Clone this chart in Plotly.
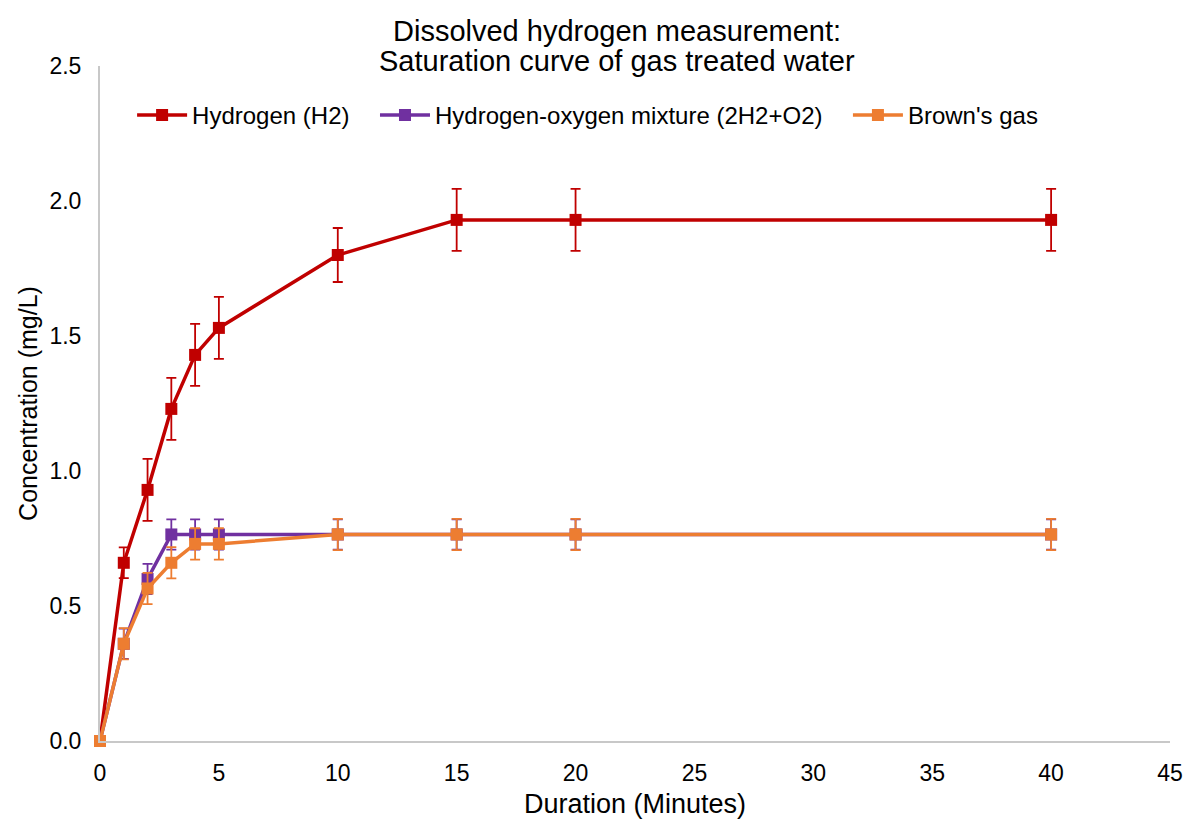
import plotly.graph_objects as go

minutes = [0, 1, 2, 3, 4, 5, 10, 15, 20, 40]

h2_values = [0, 0.66, 0.93, 1.23, 1.43, 1.53, 1.80, 1.93, 1.93, 1.93]
h2_errors = [0, 0.057, 0.115, 0.115, 0.115, 0.115, 0.10, 0.115, 0.115, 0.115]

mix_values = [0, 0.36, 0.60, 0.765, 0.765, 0.765, 0.765, 0.765, 0.765, 0.765]
mix_errors = [0, 0.056, 0.056, 0.056, 0.056, 0.056, 0.056, 0.056, 0.056, 0.056]

brown_values = [0, 0.36, 0.565, 0.66, 0.73, 0.73, 0.765, 0.765, 0.765, 0.765]
brown_errors = [0, 0.058, 0.058, 0.058, 0.058, 0.058, 0.058, 0.058, 0.058, 0.058]

series_names = ["Hydrogen (H2)", "Hydrogen-oxygen mixture (2H2+O2)", "Brown's gas"]
series_colors = ["#C00000", "#7030A0", "#ED7D31"]

title_lines = ["Dissolved hydrogen measurement:", "Saturation curve of gas treated water"]

FONT = "Liberation Sans, Arial, sans-serif"

legend_ids = ["legend", "legend2", "legend3"]
legend_x = [0.03, 0.257, 0.699]

fig = go.Figure()
for name, vals, errs, col, lg in zip(series_names,
                                     [h2_values, mix_values, brown_values],
                                     [h2_errors, mix_errors, brown_errors],
                                     series_colors, legend_ids):
    fig.add_trace(go.Scatter(
        x=minutes, y=vals, name=name, mode="lines+markers",
        line=dict(color=col, width=3.5),
        marker=dict(symbol="square", size=12, color=col),
        error_y=dict(type="data", array=errs, visible=True,
                     color=col, thickness=1.8, width=5),
        cliponaxis=False, legend=lg, showlegend=True,
    ))

# two-line chart title
for txt, ypos in zip(title_lines, [1.052, 1.007]):
    fig.add_annotation(text=txt, xref="paper", yref="paper", x=0.483, y=ypos,
                       xanchor="center", yanchor="middle", showarrow=False,
                       font=dict(family=FONT, size=29, color="#000000"))

legend_style = dict(orientation="h", xanchor="left", y=0.927, yanchor="middle",
                    itemwidth=50,
                    font=dict(family=FONT, size=24, color="#000000"),
                    bgcolor="rgba(0,0,0,0)")

fig.update_layout(
    width=1188, height=819,
    paper_bgcolor="white", plot_bgcolor="white",
    margin=dict(l=100, r=18, t=66, b=78, autoexpand=False),
    font=dict(family=FONT, size=23, color="#000000"),
    legend=dict(x=legend_x[0], **legend_style),
    legend2=dict(x=legend_x[1], **legend_style),
    legend3=dict(x=legend_x[2], **legend_style),
    xaxis=dict(range=[0, 45], dtick=5, tick0=0, showgrid=False, zeroline=False,
               showline=True, linecolor="#C8C8C8", linewidth=2,
               ticks="", ticklabelstandoff=10, automargin=False,
               tickfont=dict(family=FONT, size=23, color="#000000"),
               title=dict(text="Duration (Minutes)", standoff=15,
                          font=dict(family=FONT, size=27, color="#000000"))),
    yaxis=dict(range=[0, 2.5], dtick=0.5, tick0=0, tickformat=".1f",
               showgrid=False, zeroline=False,
               showline=True, linecolor="#C8C8C8", linewidth=2,
               ticks="", ticklabelstandoff=12, automargin=False,
               tickfont=dict(family=FONT, size=23, color="#000000"),
               title=dict(text="Concentration (mg/L)", standoff=5,
                          font=dict(family=FONT, size=25, color="#000000"))),
)

fig.write_html("out.html")
